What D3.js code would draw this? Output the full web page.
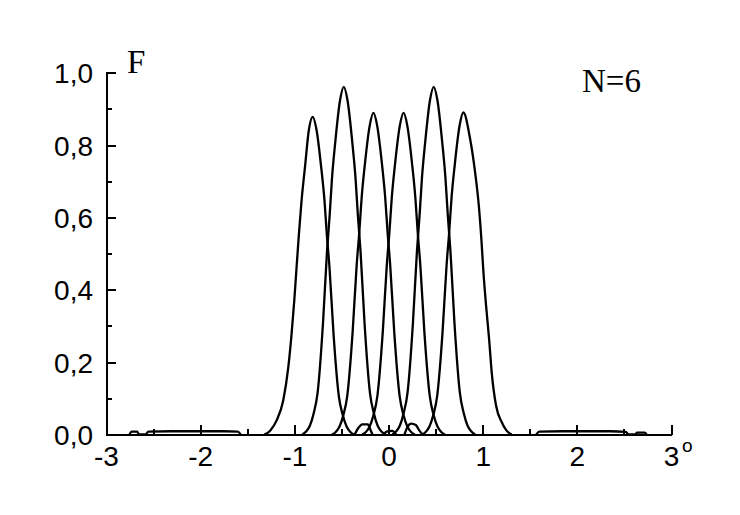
<!DOCTYPE html>
<meta charset="utf-8">
<head>
  <script src="https://cdn.jsdelivr.net/npm/d3@7"></script>
  <style>
  body { margin: 0; background: #fff; }

  /* ejes */
  .axis path,
  .axis line {
    fill: none;
    stroke: #000;
    stroke-width: 2px;
    shape-rendering: crispEdges;
  }
  .axis text {
    font-family: "Liberation Sans", Arial, sans-serif;
    font-size: 28px;
    fill: #000;
  }

  .curva {
    fill: none;
    stroke: #000;
    stroke-width: 2.3px;
    stroke-linejoin: round;
  }

  .rotulo {
    font-family: "Liberation Serif", "Times New Roman", serif;
    font-size: 33px;
    fill: #000;
  }
  </style>
</head>
<body>
<script type="text/javascript">

// ticks
var xTicks = [-3, -2, -1, 0, 1, 2, 3];
var xTickLabels = ["-3", "-2", "-1", "0", "1", "2", "3"];
var xMinor = [-2.5, -1.5, -0.5, 0.5, 1.5, 2.5];
var yTicks = [0, 0.2, 0.4, 0.6, 0.8, 1.0];
var yTickLabels = ["0,0", "0,2", "0,4", "0,6", "0,8", "1,0"];
var yMinor = [0.1, 0.3, 0.5, 0.7, 0.9];

// curvas F(angulo): [x, F]
var c1 = [[-1.32,0],[-1.30,0.002],[-1.255,0.011],[-1.188,0.039],[-1.118,0.094],[-1.064,0.186],[-1.029,0.279],
  [-1.001,0.369],[-0.976,0.463],[-0.951,0.555],[-0.923,0.647],[-0.887,0.739],[-0.845,0.843],[-0.805,0.878],
  [-0.765,0.843],[-0.715,0.739],[-0.680,0.647],[-0.655,0.553],[-0.627,0.463],[-0.584,0.279],[-0.527,0.105],
  [-0.485,0.053],[-0.445,0.022],[-0.405,0.007],[-0.365,0]];
var c2 = [[-0.915,0],[-0.875,0.008],[-0.835,0.024],[-0.795,0.058],[-0.753,0.115],[-0.696,0.306],[-0.653,0.506],
  [-0.625,0.605],[-0.600,0.708],[-0.565,0.809],[-0.515,0.923],[-0.475,0.961],[-0.435,0.923],[-0.385,0.809],
  [-0.350,0.708],[-0.325,0.605],[-0.297,0.506],[-0.254,0.306],[-0.197,0.115],[-0.155,0.058],[-0.115,0.024],
  [-0.075,0.008],[-0.035,0]];
var c3 = [[-0.60,0],[-0.56,0.007],[-0.52,0.022],[-0.48,0.053],[-0.438,0.107],[-0.381,0.283],[-0.338,0.468],
  [-0.31,0.56],[-0.285,0.655],[-0.25,0.749],[-0.20,0.853],[-0.16,0.889],[-0.12,0.853],[-0.07,0.749],
  [-0.035,0.655],[-0.01,0.56],[0.018,0.468],[0.061,0.283],[0.118,0.107],[0.16,0.053],[0.20,0.022],
  [0.24,0.007],[0.28,0]];
var c4 = [[-0.28,0],[-0.24,0.007],[-0.20,0.022],[-0.16,0.053],[-0.118,0.107],[-0.061,0.283],[-0.018,0.468],
  [0.01,0.56],[0.035,0.655],[0.07,0.749],[0.12,0.853],[0.16,0.889],[0.20,0.853],[0.25,0.749],
  [0.285,0.655],[0.31,0.56],[0.338,0.468],[0.381,0.283],[0.438,0.107],[0.48,0.053],[0.52,0.022],
  [0.56,0.007],[0.60,0]];
var c5 = [[0.04,0],[0.08,0.008],[0.12,0.024],[0.16,0.058],[0.202,0.115],[0.259,0.306],[0.302,0.506],
  [0.33,0.605],[0.355,0.708],[0.39,0.809],[0.44,0.923],[0.48,0.961],[0.52,0.923],[0.57,0.809],
  [0.605,0.708],[0.63,0.605],[0.658,0.506],[0.701,0.306],[0.758,0.115],[0.80,0.058],[0.84,0.024],
  [0.88,0.008],[0.92,0]];
var c6 = [[0.355,0],[0.395,0.007],[0.435,0.022],[0.475,0.053],[0.517,0.107],[0.574,0.283],[0.617,0.469],
  [0.645,0.561],[0.67,0.656],[0.705,0.749],[0.755,0.854],[0.795,0.89],[0.866,0.818],[0.919,0.726],
  [0.959,0.633],[0.986,0.541],[1.008,0.449],[1.036,0.357],[1.068,0.265],[1.096,0.172],[1.142,0.080],
  [1.203,0.034],[1.25,0.012],[1.292,0.002],[1.31,0]];

// lobulos pequenos cerca del cero
var colaIzq = [[-2.75,0],[-2.73,0.008],[-2.67,0.008],[-2.65,0],[-2.58,0],[-2.55,0.008],[-2.3,0.009],
  [-2.0,0.009],[-1.75,0.009],[-1.6,0.008],[-1.57,0]];
var colaDer = [[1.57,0],[1.6,0.008],[1.85,0.009],[2.1,0.009],[2.35,0.009],[2.52,0.007],[2.55,0],
  [2.62,0],[2.64,0.005],[2.72,0.005],[2.74,0]];
var lobIzq = [[-0.36,0],[-0.32,0.018],[-0.28,0.028],[-0.22,0.028],[-0.19,0.012],[-0.17,0]];
var lobCen = [[-0.05,0],[-0.02,0.008],[0.04,0.01],[0.08,0]];
var lobDer = [[0.17,0],[0.2,0.02],[0.24,0.03],[0.29,0.026],[0.33,0.01],[0.36,0]];

var curvas = [c1, c2, c3, c4, c5, c6, colaIzq, colaDer, lobIzq, lobCen, lobDer];

// margenes
var margin = {top: 72.7, left: 106},
    w = 565,
    h = 361.8;

var xScale = d3.scaleLinear().domain([-3, 3]).range([0, w]);
var yScale = d3.scaleLinear().domain([0, 1]).range([h, 0]);

var svg = d3.select("body")
            .append("svg")
            .attr("width", 740)
            .attr("height", 515);

svg.append("rect").attr("width", 740).attr("height", 515).attr("fill", "#fff");

var g = svg.append("g")
           .attr("transform", "translate(" + margin.left + "," + margin.top + ")");

// ejes: ticks hacia adentro
var xAxis = d3.axisBottom(xScale)
              .tickValues(xTicks)
              .tickFormat(function(d, i){ return xTickLabels[i]; })
              .tickSizeInner(-10)
              .tickSizeOuter(0)
              .tickPadding(12);

var xAxisMinor = d3.axisBottom(xScale)
              .tickValues(xMinor)
              .tickFormat("")
              .tickSizeInner(-6)
              .tickSizeOuter(0);

var yAxis = d3.axisLeft(yScale)
              .tickValues(yTicks)
              .tickFormat(function(d, i){ return yTickLabels[i]; })
              .tickSizeInner(-10)
              .tickSizeOuter(0)
              .tickPadding(13);

var yAxisMinor = d3.axisLeft(yScale)
              .tickValues(yMinor)
              .tickFormat("")
              .tickSizeInner(-6)
              .tickSizeOuter(0);

var line = d3.line()
             .x(function(d){ return xScale(d[0]); })
             .y(function(d){ return yScale(d[1]); })
             .curve(d3.curveMonotoneX);

g.selectAll("path.curva")
  .data(curvas)
  .enter()
  .append("path")
  .attr("class", "curva")
  .attr("d", line);

g.append("g").attr("class", "axis").attr("transform", "translate(0," + h + ")").call(xAxisMinor);
g.append("g").attr("class", "axis").attr("transform", "translate(0," + h + ")").call(xAxis);
g.append("g").attr("class", "axis").call(yAxisMinor);
g.append("g").attr("class", "axis").call(yAxis)
  .selectAll("text").attr("dy", "0.36em");

// grado despues del 3
g.append("text")
  .attr("x", xScale(3) + 11)
  .attr("y", h + 18)
  .attr("font-family", "Liberation Sans, Arial, sans-serif")
  .attr("font-size", 19)
  .text("o");

svg.append("text").attr("class", "rotulo").attr("x", 127).attr("y", 73).text("F");
svg.append("text").attr("class", "rotulo").attr("x", 582).attr("y", 92).text("N=6");

</script>
</body>
